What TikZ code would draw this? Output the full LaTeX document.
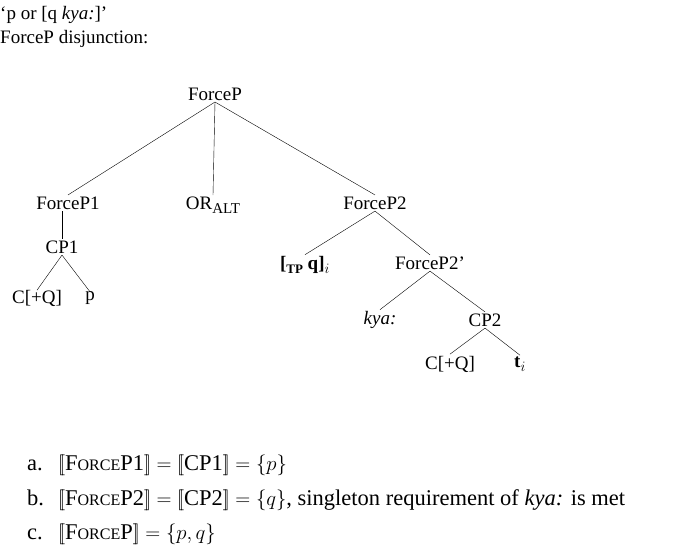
\documentclass[tikz,border=0pt]{standalone}
\usepackage{fontspec}
\setmainfont{Liberation Serif}
\usetikzlibrary{positioning}
\newcommand{\sem}[1]{$[\![$#1$]\!]$}
\newcommand{\fsc}[1]{F{\fontsize{16}{18}\selectfont ORCE}P#1}

\begin{document}
\begin{tikzpicture}[x=1pt, y=-1pt,
  font=\fontsize{19}{22}\selectfont,
  every node/.style={inner sep=1.5pt},
  lbl/.style={anchor=base west, inner sep=0pt},
  item/.style={lbl, font=\fontsize{22.5}{26}\selectfont}]
\useasboundingbox (0,0) rectangle (685,546);

% heading
\node[lbl] (title) at (0,19) {`p or [q \textit{kya:}]'};
\node[lbl] (sub) at (0,43) {ForceP disjunction:};

% tree
\node (top) at (215,94) {ForceP};
\node (fp1) at (68,203) {ForceP1};
\node (or) at (213,205) {OR\raisebox{-0.45ex}{\fontsize{15}{17}\selectfont ALT}};
\node (fp2) at (375,203) {ForceP2};
\node (cp1) at (62,247) {CP1};
\node (c1) at (37,298) {C[+Q]};
\node (p) at (90,298) {p};
\node (tp) at (305,265) {\textbf{[}\raisebox{-0.4ex}{\fontsize{13}{15}\selectfont\bfseries TP} \textbf{q]}$_i$};
\node (fp2b) at (430,263) {ForceP2'};
\node (kya) at (380,320) {\textit{kya:}};
\node (cp2) at (485,320) {CP2};
\node (c2) at (450,364) {C[+Q]};
\node (t) at (520,364) {\textbf{t}$_i$};

\draw (top.south) -- (fp1.north);
\draw (top.south) -- (or.north);
\draw (top.south) -- (fp2.north);
\draw (cp1.north) -- (cp1.north |- fp1.south);
\draw (cp1.south) -- ([yshift=-2pt]c1.north);
\draw (cp1.south) -- ([yshift=-2pt]p.north);
\draw (fp2.south) -- (tp.north);
\draw (fp2.south) -- (fp2b.north);
\draw (fp2b.south) -- (kya.north);
\draw (fp2b.south) -- (cp2.north);
\draw (cp2.south) -- (c2.north);
\draw (cp2.south) -- (t.north);

% list
\node[item] (la) at (27,470) {a.};
\node[item] (lb) at (27,505) {b.};
\node[item] (lc) at (27,539) {c.};
\node[item] (ta) at (58,470) {\sem{\fsc{1}} $=$ \sem{CP1} $=\{p\}$};
\node[item] (tb) at (58,505) {\sem{\fsc{2}} $=$ \sem{CP2} $=\{q\}$, singleton requirement of \textit{kya:} is met};
\node[item] (tc) at (58,539) {\sem{\fsc{}} $=\{p,q\}$};
\end{tikzpicture}
\end{document}
